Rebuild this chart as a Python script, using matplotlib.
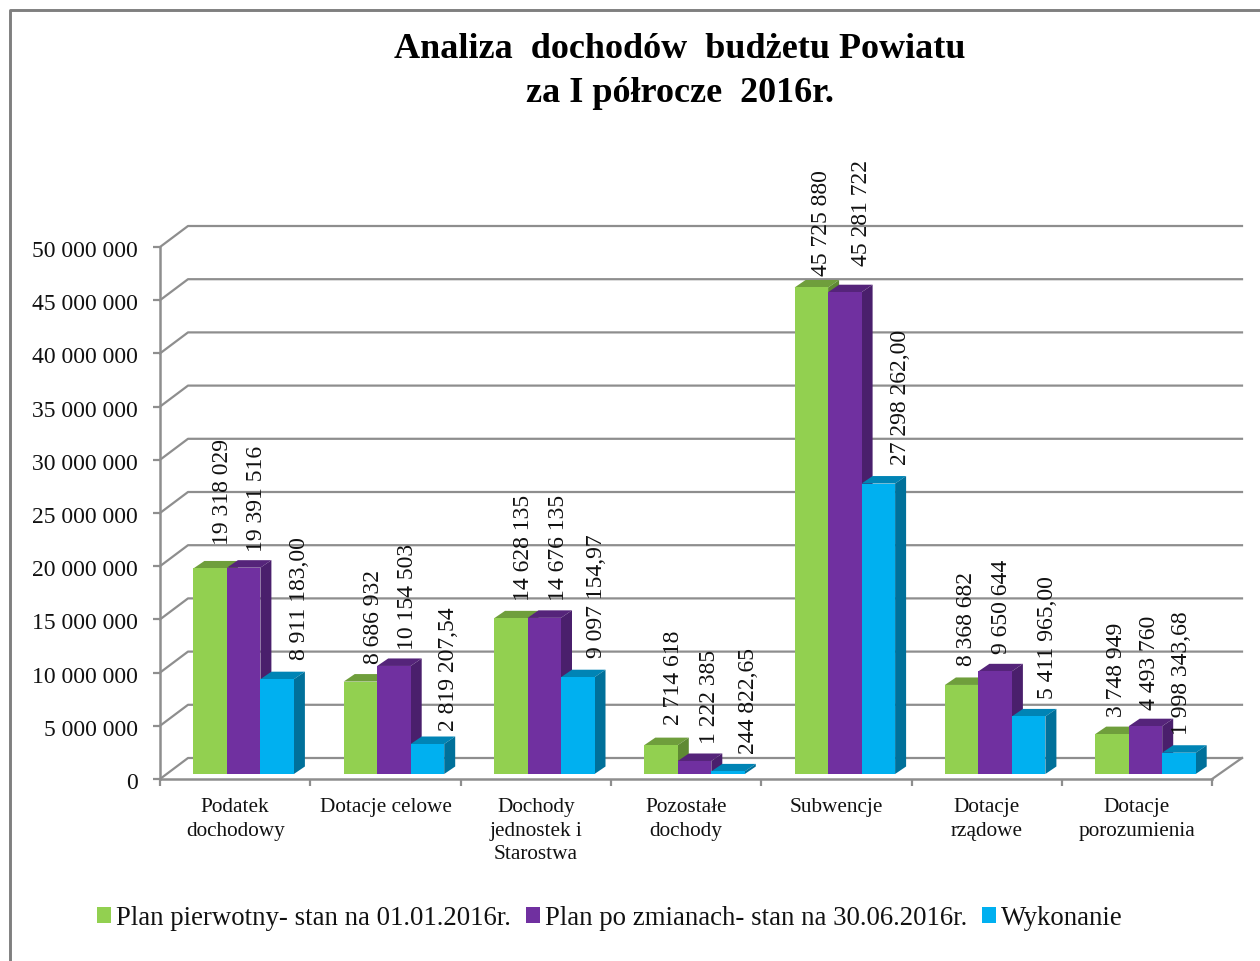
import matplotlib
matplotlib.use('Agg')
import matplotlib.pyplot as plt
from matplotlib.patches import Polygon, Patch
from matplotlib.lines import Line2D
from matplotlib.transforms import ScaledTranslation

plt.rcParams['font.family'] = ['Liberation Serif', 'DejaVu Serif']

categories = ['Podatek\ndochodowy', 'Dotacje celowe', 'Dochody\njednostek i\nStarostwa',
              'Pozostałe\ndochody', 'Subwencje', 'Dotacje\nrządowe', 'Dotacje\nporozumienia']
plan_pierwotny = [19318029, 8686932, 14628135, 2714618, 45725880, 8368682, 3748949]
plan_po_zmianach = [19391516, 10154503, 14676135, 1222385, 45281722, 9650644, 4493760]
wykonanie = [8911183.00, 2819207.54, 9097154.97, 244822.65, 27298262.00, 5411965.00, 1998343.68]

labels_pierwotny = ['19 318 029', '8 686 932', '14 628 135', '2 714 618', '45 725 880', '8 368 682', '3 748 949']
labels_zmiany = ['19 391 516', '10 154 503', '14 676 135', '1 222 385', '45 281 722', '9 650 644', '4 493 760']
labels_wykonanie = ['8 911 183,00', '2 819 207,54', '9 097 154,97', '244 822,65', '27 298 262,00', '5 411 965,00', '1 998 343,68']

y_ticks = [0, 5000000, 10000000, 15000000, 20000000, 25000000, 30000000, 35000000, 40000000, 45000000, 50000000]
y_tick_labels = ['0', '5 000 000', '10 000 000', '15 000 000', '20 000 000', '25 000 000',
                 '30 000 000', '35 000 000', '40 000 000', '45 000 000', '50 000 000']

series_names = ['Plan pierwotny- stan na 01.01.2016r.', 'Plan po zmianach- stan na 30.06.2016r.', 'Wykonanie']

# kolory: przód, góra, bok
green = ('#92D050', '#6F9E3C', '#5F8A33')
purple = ('#7030A0', '#55247A', '#4A1F6C')
blue = ('#00B0F0', '#0084B5', '#00709A')
grid_c = '#8E8E8E'

W, H = 1260, 962
fig = plt.figure(figsize=(W / 100, H / 100), dpi=100)

# ramka wykresu (bez prawej krawędzi)
fig.add_artist(Line2D([10 / W, 10 / W, 1], [0, 1 - 10.5 / H, 1 - 10.5 / H], color='#7F7F7F', lw=2.1))

px_x = 150.3
px_y = 532 / 50000000
dx_wall = 28 / px_x
dy_wall = 21 / px_y
xmax = (1242 - 160) / px_x
ax = fig.add_axes([160 / W, 1 - 780 / H, (1242 - 160) / W, (780 - 226) / H])
ax.set_xlim(0, xmax)
ax.set_ylim(0, 554 / px_y)
ax.patch.set_alpha(0)

# siatka na tylnej ścianie
for v in y_ticks:
    ax.plot([0, dx_wall, xmax], [v, v + dy_wall, v + dy_wall], color=grid_c, lw=1.6, zorder=1, clip_on=False)
ax.plot([7, xmax], [0, dy_wall], color=grid_c, lw=1.6, zorder=1, clip_on=False)

for s in ['top', 'right']:
    ax.spines[s].set_visible(False)
ax.spines['left'].set_bounds(0, 50000000)
ax.spines['bottom'].set_bounds(0, 7)
for s in ['left', 'bottom']:
    ax.spines[s].set_color(grid_c)
    ax.spines[s].set_linewidth(1.8)

ax.set_yticks(y_ticks)
ax.set_yticklabels(y_tick_labels, fontsize=17, color='#111111')
ax.tick_params(axis='y', length=5, width=1.6, color=grid_c, pad=11)
# etykiety osi Y trochę niżej
for t in ax.get_yticklabels():
    t.set_transform(t.get_transform() + ScaledTranslation(0, -1 / 100, fig.dpi_scale_trans))
ax.set_xticks(range(8))
ax.set_xticklabels([])
ax.tick_params(axis='x', which='major', length=5, width=1.6, color=grid_c)
ax.set_xticks([i + 0.5 for i in range(7)], minor=True)
ax.set_xticklabels(categories, minor=True, fontsize=15.3, color='#111111', linespacing=1.34)
ax.tick_params(axis='x', which='minor', length=0, pad=12.8)

bar_w = 33.5 / px_x
base = 5 / px_y
shift = 8.5 / px_x
dx_bar = 11 / px_x
dy_bar = 7.5 / px_y

series = [
    (plan_pierwotny, labels_pierwotny, green, -1),
    (plan_po_zmianach, labels_zmiany, purple, 0),
    (wykonanie, labels_wykonanie, blue, 1),
]

# przesunięcia etykiet danych (piksele) względem środka słupka
off_x = [[12, 13, 13, 12, 10, 5, 5], [13, 14, 14, 15, 17, 6, 4], [22, 21, 19, 20, 22, 19, 3]]
off_y = [[24, 19, 18, 21, 12, 20, 18], [17, 17, 18, 18, 27, 18, 17], [20, 14, 20, 18, 20, 18, 19]]

for k, (vals, texts, cols, pos) in enumerate(series):
    for i, v in enumerate(vals):
        x0 = i + 0.5 + shift + pos * bar_w - bar_w / 2
        x1 = x0 + bar_w
        top = base + v
        z = 3 + k + i * 3
        ax.add_patch(Polygon([(x0, top), (x1, top), (x1 + dx_bar, top + dy_bar), (x0 + dx_bar, top + dy_bar)],
                             facecolor=cols[1], edgecolor='none', zorder=z))
        ax.add_patch(Polygon([(x1, base), (x1 + dx_bar, base + dy_bar), (x1 + dx_bar, top + dy_bar), (x1, top)],
                             facecolor=cols[2], edgecolor='none', zorder=z))
        ax.bar(x0, v, width=bar_w, bottom=base, align='edge', color=cols[0], edgecolor='none', zorder=z)
        ax.annotate(texts[i], xy=((x0 + x1) / 2, top), xytext=(off_x[k][i] * 0.72, off_y[k][i] * 0.72),
                    textcoords='offset points', rotation=90, ha='center', va='bottom',
                    fontsize=17, color='#111111', zorder=50, annotation_clip=False)

handles = [Patch(facecolor=c[0], edgecolor='none') for c in (green, purple, blue)]
fig.legend(handles, series_names, loc='center', bbox_to_anchor=(610 / W, 1 - 919 / H), ncol=3, frameon=False,
           fontsize=19.3, handlelength=0.52, handleheight=0.52, handletextpad=0.19, columnspacing=0.56,
           labelcolor='#111111')

fig.text(680 / W, 1 - 50 / H, 'Analiza  dochodów  budżetu Powiatu', ha='center', va='center',
         fontsize=26, fontweight='bold', color='#000000')
fig.text(680 / W, 1 - 94 / H, 'za I półrocze  2016r.', ha='center', va='center',
         fontsize=26, fontweight='bold', color='#000000')

fig.savefig('out.png', dpi=100)
